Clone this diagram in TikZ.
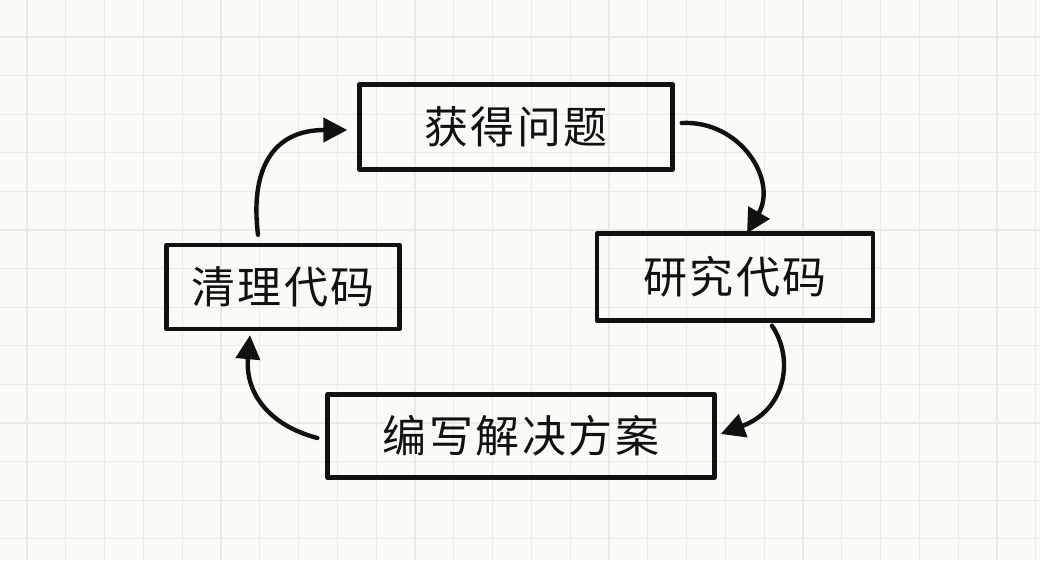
\documentclass[tikz,border=0pt]{standalone}
\usepackage{fontspec}
\newfontfamily\cjk[LetterSpace=6]{Noto Sans CJK SC}
\usetikzlibrary{arrows.meta}
\definecolor{paper}{HTML}{FBFAF6}
\definecolor{gridc}{HTML}{EBE9E3}
\definecolor{ink}{HTML}{111111}
\tikzset{
  gridline/.style={draw=gridc, line width=1.3pt},
  stepbox/.style={draw=ink, line width=4.4pt, line join=round, inner sep=0pt,
    font=\cjk\fontsize{44}{48}\selectfont, text=ink},
  flow/.style={draw=ink, line width=4.4pt, line cap=round,
    -{Triangle[length=24pt,width=24pt]}},
}
\begin{document}
\begin{tikzpicture}[x=1pt,y=-1pt]
\useasboundingbox (0,0) rectangle (1040,560);
\fill[paper] (0,0) rectangle (1040,560);
\foreach \i in {0,...,26} \draw[gridline] ({27+\i*38.8},0) -- ({27+\i*38.8},560);
\foreach \j in {0,...,13} \draw[gridline] (0,{37+\j*38.6}) -- (1040,{37+\j*38.6});

\node[stepbox, minimum width=313pt, minimum height=85pt] (b1) at (516,127) {获得问题};
\node[stepbox, minimum width=276pt, minimum height=87pt] (b2) at (735,277) {研究代码};
\node[stepbox, minimum width=233pt, minimum height=84pt] (b3) at (283,287) {清理代码};
\node[stepbox, minimum width=387pt, minimum height=83pt] (b4) at (521,436) {编写解决方案};

\draw[flow] ([xshift=7pt,yshift=4pt]b1.east) .. controls (740,120) and (778,180) .. ([xshift=12pt,yshift=-2pt]b2.north);
\draw[flow] ([xshift=37pt,yshift=-3pt]b2.south) .. controls (795,360) and (785,410) .. ([xshift=4pt,yshift=2pt]b4.east);
\draw[flow] ([xshift=-8pt,yshift=-2pt]b4.west) .. controls (268,425) and (245,392) .. ([xshift=-33pt,yshift=-4pt]b3.south);
\draw[flow] ([xshift=-25pt,yshift=8pt]b3.north) .. controls (250,170) and (272,130) .. ([xshift=-10pt,yshift=-3pt]b1.west);
\end{tikzpicture}
\end{document}
